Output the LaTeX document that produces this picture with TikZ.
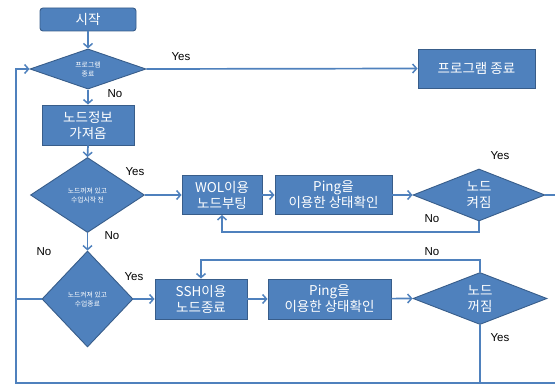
\documentclass[tikz,border=0pt]{standalone}
\usepackage{fontspec}
\setmainfont{Noto Sans CJK KR}
\newfontfamily\latinfont{Liberation Sans}
\usetikzlibrary{shapes.geometric,arrows.meta}
\definecolor{boxfill}{RGB}{79,129,189}
\definecolor{boxborder}{RGB}{56,93,138}
\definecolor{linec}{RGB}{79,129,189}
\tikzset{
  boxbase/.style={draw=boxborder, fill=boxfill, text=white, line width=0.9pt, inner sep=0pt, align=center,
    font=\fontsize{13.5}{16}\selectfont},
  procbox/.style={boxbase, rectangle},
  startbox/.style={boxbase, rectangle, rounded corners=3pt},
  dia/.style={boxbase, diamond, aspect=1},
  smalltext/.style={font=\fontsize{6.8}{9}\selectfont},
  conn/.style={draw=linec, line width=1.7pt},
  arr/.style={conn, -{Straight Barb[length=4pt,width=9pt,line width=1.5pt]}},
  lab/.style={font=\latinfont\fontsize{11.5}{13}\selectfont, text=black, inner sep=0pt}
}
\begin{document}
\begin{tikzpicture}[x=1pt,y=-1pt]
\useasboundingbox (0,0) rectangle (555,385);
\clip (0,0) rectangle (555,385);
% nodes
\node[startbox, minimum width=96pt, minimum height=23pt] (start) at (88,19.5) {시작};
\node[dia, minimum width=116pt, minimum height=38pt, smalltext] (d1) at (88,69) {프로그램\\종료};
\node[procbox, minimum width=117pt, minimum height=39pt] (endb) at (476.5,68.5) {프로그램 종료};
\node[procbox, minimum width=92pt, minimum height=40pt] (info) at (88,125) {노드정보\\가져옴};
\node[dia, minimum width=114pt, minimum height=75pt, smalltext] (d2) at (87.5,195) {노드꺼져 있고\\수업시작 전};
\node[procbox, minimum width=80pt, minimum height=39pt] (wol) at (222,195) {WOL이용\\노드부팅};
\node[procbox, minimum width=117pt, minimum height=39pt] (ping1) at (333.5,195) {Ping을\\이용한 상태확인};
\node[dia, minimum width=132pt, minimum height=45pt] (d3) at (479,195) {노드\\켜짐};
\node[dia, minimum width=91pt, minimum height=96pt, smalltext] (d4) at (87.5,299) {노드켜져 있고\\수업종료};
\node[procbox, minimum width=92pt, minimum height=40pt] (ssh) at (201,299) {SSH이용\\노드종료};
\node[procbox, minimum width=123pt, minimum height=40pt] (ping2) at (329.5,299) {Ping을\\이용한 상태확인};
\node[dia, minimum width=134pt, minimum height=47pt] (d5) at (480,298.5) {노드\\꺼짐};
% helper coordinates
\coordinate (bl) at (16,383);
\coordinate (br) at (560,383);
\coordinate (re) at (560,195);
\coordinate (n3) at (479,232);
\coordinate (n5) at (480,260);
\coordinate (y5) at (480,383);
\coordinate (lw) at (16,299);
% connectors
\draw[arr] (start) -- (d1);
\draw[arr] (d1.east) -- (endb.west);
\draw[arr] (d1.south) -- (info.north);
\draw[arr] (info.south) -- (d2.north);
\draw[arr] (d2.east) -- (wol.west);
\draw[arr] (wol) -- (ping1);
\draw[arr] (ping1) -- (d3.west);
\draw[conn] (d3.east) -- (re);
\draw[arr] (d3.south) -- (n3) -| (wol.south);
\draw[arr] (d2.south) -- (d4.north);
\draw[arr] (d4.east) -- (ssh.west);
\draw[arr] (ssh) -- (ping2);
\draw[arr] (ping2) -- (d5.west);
\draw[arr] (d5.north) -- (n5) -| (ssh.north);
\draw[conn] (d5.south) -- (y5);
\draw[conn] (d4.west) -- (lw);
\draw[arr] (br) -- (bl) |- (d1.west);
% labels
\node[lab] (l1) at (181,57) {Yes};
\node[lab] (l2) at (115,94) {No};
\node[lab] (l3) at (135,172) {Yes};
\node[lab] (l4) at (112,236) {No};
\node[lab] (l5) at (44,252) {No};
\node[lab] (l6) at (134,277) {Yes};
\node[lab] (l7) at (500,156) {Yes};
\node[lab] (l8) at (432,219) {No};
\node[lab] (l9) at (432,252) {No};
\node[lab] (l10) at (500,338) {Yes};
\end{tikzpicture}
\end{document}
